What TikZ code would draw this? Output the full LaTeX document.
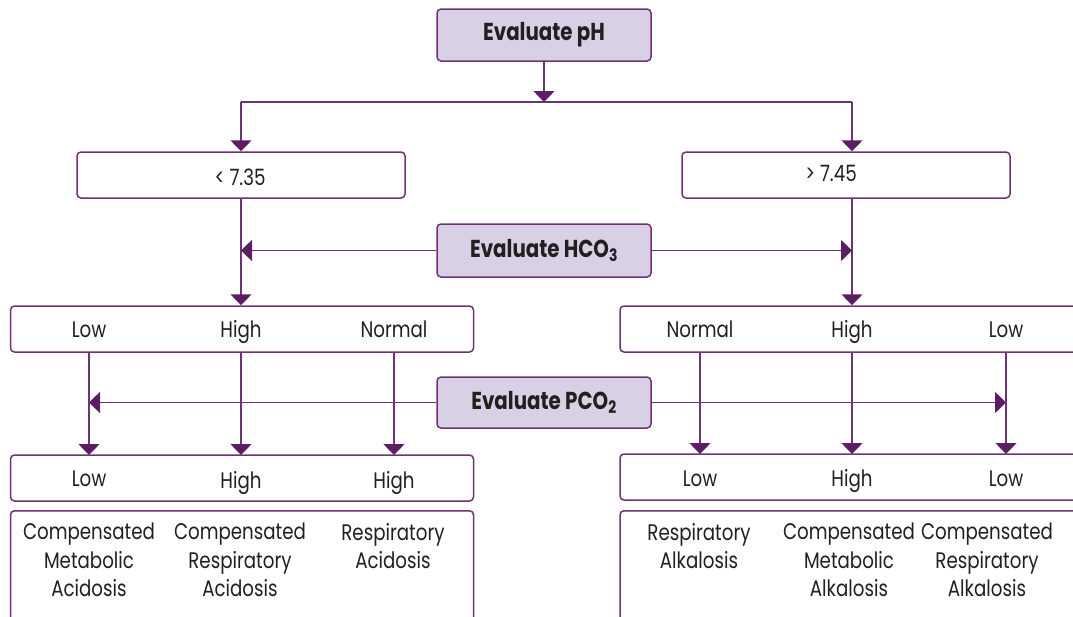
\documentclass[tikz,border=0pt]{standalone}
\usepackage{fontspec}
\setmainfont{Poppins}[FakeStretch=0.81]
\usetikzlibrary{arrows.meta}
\definecolor{boxline}{RGB}{112,50,118}
\definecolor{arrowc}{RGB}{92,30,98}
\definecolor{evalfill}{RGB}{218,208,229}
\definecolor{txt}{RGB}{35,31,32}
\begin{document}
\begin{tikzpicture}[x=1pt,y=-1pt,
  box/.style={draw=boxline,line width=1.5pt,rounded corners=4pt,inner sep=0pt,fill=white},
  evalbox/.style={box,fill=evalfill,minimum width=214pt,minimum height=52pt,text=txt,font=\fontsize{24.5}{28}\selectfont\bfseries},
  wbox/.style={box,minimum width=#1,minimum height=46pt},
  lbl/.style={anchor=base,inner sep=0pt,font=\fontsize{22.5}{28.5}\selectfont,text=txt,align=center},
  dlbl/.style={anchor=north,inner sep=0pt,font=\fontsize{22.5}{28.5}\selectfont,text=txt,align=center},
  con/.style={draw=boxline,line width=1.5pt},
  arr/.style={con,-{Triangle[width=21pt,length=11pt,color=arrowc]}}
]
\useasboundingbox (0,0) rectangle (1073,616);
\clip (0,0) rectangle (1073,616);

% top
\node[evalbox] (ph) at (544,35) {Evaluate pH};
\coordinate (split) at (544,102);
\coordinate (splitL) at (241,102);
\coordinate (splitR) at (852,102);

\node[wbox=328pt] (lo) at (241,175) {};
\node[wbox=328pt] (hi) at (846,175) {};
\node[lbl] (lot) at (240,185) {< 7.35};
\node[lbl] (hit) at (831,181) {> 7.45};
\coordinate (hix) at (852,198);

\draw[arr] (ph.south) -- (split);
\draw[con] (splitL) -- (splitR);
\draw[arr] (splitL) -- (splitL |- lo.north);
\draw[arr] (splitR) -- (splitR |- hi.north);

% HCO3
\node[evalbox,minimum height=53pt] (hco) at (544,250.5) {Evaluate HCO\textsubscript{3}};

\node[wbox=463pt] (r2L) at (242,329) {};
\node[wbox=463pt] (r2R) at (851.5,329) {};

\draw[arr] (lo.south) -- (lo.south |- r2L.north);
\draw[arr] (hix) -- (hix |- r2R.north);
\draw[arr] (hco.west) -- (hco.west -| lo.south);
\draw[arr] (hco.east) -- (hco.east -| hix);

\node[lbl] (a1) at (89,337) {Low};
\node[lbl] (a2) at (241,337) {High};
\node[lbl] (a3) at (394,337) {Normal};
\node[lbl] (b1) at (700,337) {Normal};
\node[lbl] (b2) at (852,337) {High};
\node[lbl] (b3) at (1006,337) {Low};

% PCO2
\node[evalbox,minimum height=51pt] (pco) at (544,402.5) {Evaluate PCO\textsubscript{2}};

\node[wbox=463pt] (r3L) at (242,478) {};
\node[wbox=463pt] (r3R) at (851.5,477) {};

\draw[arr] (pco.west) -- (89,402.5) coordinate (pl);
\draw[arr] (pco.east) -- (1006,402.5) coordinate (pr);

\foreach \x in {89,241,394}{
  \draw[arr] (\x,352) -- (\x,455);
}
\foreach \x in {700,852,1006}{
  \draw[arr] (\x,352) -- (\x,454);
}

\node[lbl] (c1) at (89,486) {Low};
\node[lbl] (c2) at (241,488) {High};
\node[lbl] (c3) at (394,488) {High};
\node[lbl] (d1) at (700,486) {Low};
\node[lbl] (d2) at (852,486) {High};
\node[lbl] (d3) at (1006,486) {Low};

% results
\node[box,minimum width=463pt,minimum height=140pt,anchor=north] (r4L) at (242,510) {};
\node[box,minimum width=463pt,minimum height=140pt,anchor=north] (r4R) at (851.5,510) {};

\node[dlbl] (e1) at (89,523) {Compensated\\Metabolic\\Acidosis};
\node[dlbl] (e2) at (240,523) {Compensated\\Respiratory\\Acidosis};
\node[dlbl] (e3) at (393,523) {Respiratory\\Acidosis};
\node[dlbl] (f1) at (699,523) {Respiratory\\Alkalosis};
\node[dlbl] (f2) at (849,523) {Compensated\\Metabolic\\Alkalosis};
\node[dlbl] (f3) at (987,523) {Compensated\\Respiratory\\Alkalosis};
\end{tikzpicture}
\end{document}
